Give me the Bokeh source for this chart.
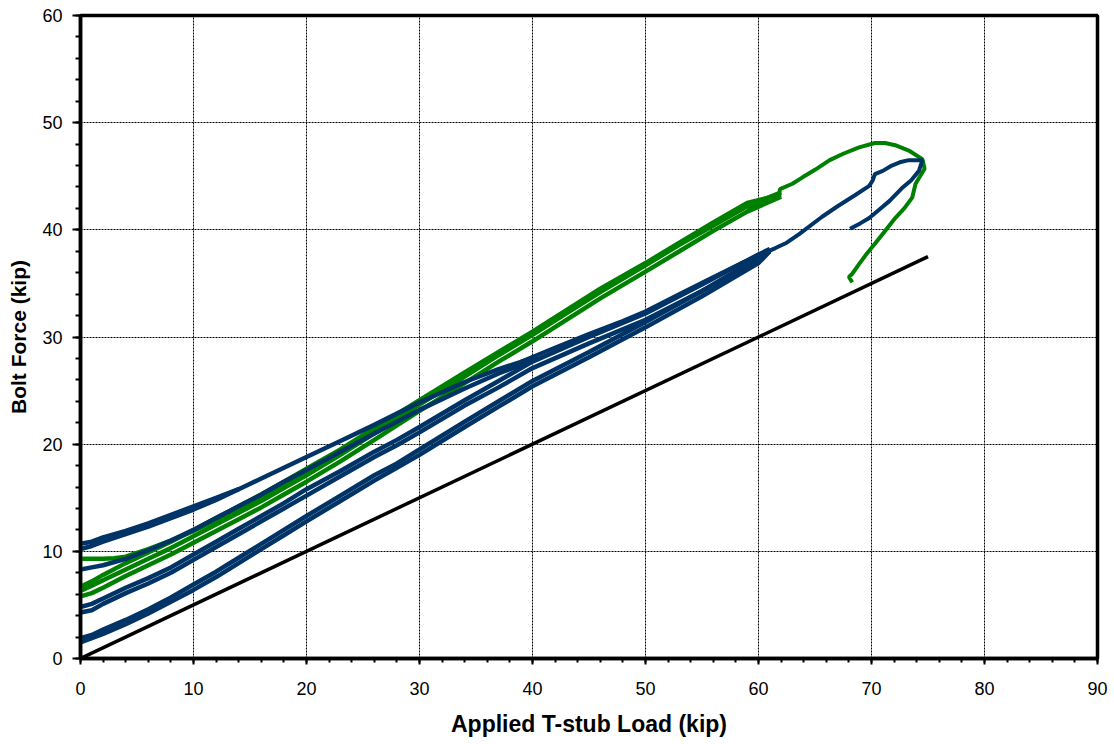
from bokeh.plotting import figure
from bokeh.models import Range1d, SingleIntervalTicker
from bokeh.embed import file_html
from bokeh.resources import INLINE

# ---------------- data ----------------
# Reference line: bolt force = half the T-stub load
ref_x = [0, 75]
ref_y = [0, 37.5]

# Blue series: lowest band (several cycles up to ~61 kip)
b1_x = [0, 1, 2, 4, 6, 8, 10, 12, 14, 16, 18, 20, 23, 26, 28, 30, 34, 37, 40, 45, 50, 55, 60, 61]
b1_load_y = [1.9, 2.2, 2.7, 3.6, 4.6, 5.7, 6.9, 8.1, 9.4, 10.7, 12.0, 13.3, 15.2, 17.1, 18.2, 19.5,
             22.1, 24.0, 25.9, 28.6, 31.4, 34.3, 37.4, 38.0]
b1_unload_y = [1.5, 1.9, 2.3, 3.2, 4.2, 5.3, 6.4, 7.6, 8.9, 10.2, 11.5, 12.8, 14.7, 16.6, 17.8, 19.0,
               21.6, 23.5, 25.4, 28.1, 30.9, 33.8, 36.9, 38.0]

# Blue series: middle band
b2_x = [0, 1, 2, 4, 6, 8, 10, 12, 14, 16, 18, 20, 23, 26, 28, 30, 34, 37, 40, 45, 50, 55, 60, 61]
b2_load_y = [4.8, 5.1, 5.6, 6.6, 7.5, 8.5, 9.7, 10.9, 12.1, 13.3, 14.5, 15.8, 17.5, 19.3, 20.4, 21.6,
             24.1, 25.9, 27.7, 30.0, 32.2, 34.9, 37.7, 38.2]
b2_unload_y = [4.3, 4.5, 5.1, 6.1, 7.0, 8.0, 9.2, 10.4, 11.6, 12.8, 14.0, 15.2, 17.0, 18.8, 19.9, 21.1,
               23.6, 25.3, 27.1, 29.4, 31.6, 34.3, 37.1, 38.2]

# Blue series: upper cycle to ~40.5 kip (load and unload)
b4_x = [0, 1, 2, 4, 6, 8, 10, 12, 14, 16, 18, 20, 23, 26, 30, 34, 37, 40.5]
b4_y = [10.2, 10.5, 10.9, 11.6, 12.3, 13.1, 13.9, 14.8, 15.8, 16.8, 17.8, 18.8, 20.3, 21.8, 23.9,
        25.8, 27.0, 28.2]
b4b_x = [0, 1, 2, 4, 6, 8, 10, 12, 14]
b4b_y = [10.7, 10.9, 11.3, 11.9, 12.6, 13.4, 14.2, 15.0, 15.8]
b3_x = [40.5, 37, 34, 30, 26, 23, 20, 18, 16, 14, 12, 10, 8, 6, 4, 2, 1, 0]
b3_y = [28.0, 26.6, 25.2, 23.2, 21.0, 19.3, 17.6, 16.5, 15.3, 14.2, 13.1, 12.0, 11.0, 10.1, 9.3,
        8.7, 8.5, 8.3]

# Blue series: final loading to peak and unloading
bf_x = [39, 42, 45, 48, 50, 53, 56, 58.5, 60, 61.5, 62.5, 63.6, 65.6, 67, 68.5, 69.8, 70.1, 70.3,
        71, 71.8, 72.5, 73.3, 74.5, 74.2, 73.5, 72.7, 71.6, 70.7, 69.8, 69, 68.1]
bf_y = [27.7, 29.0, 30.3, 31.5, 32.4, 34.0, 35.6, 36.9, 37.6, 38.3, 38.8, 39.6, 41.2, 42.2, 43.2,
        44.1, 44.6, 45.2, 45.5, 46.0, 46.3, 46.5, 46.5, 45.5, 44.6, 43.9, 42.7, 41.9, 41.1, 40.6, 40.1]

# Green series: cycles up to ~62 kip
g_x = [0, 1, 2, 4, 6, 8, 10, 12, 14, 16, 18, 20, 23, 26, 30, 34, 37, 40, 43, 46, 50, 53, 56, 59, 62]
g_load_y = [6.3, 6.8, 7.3, 8.3, 9.3, 10.3, 11.4, 12.5, 13.6, 14.7, 15.9, 17.1, 19.0, 21.0, 23.7,
            26.3, 28.3, 30.2, 32.2, 34.2, 36.7, 38.6, 40.4, 42.2, 43.5]
g_unload_y = [5.8, 6.1, 6.6, 7.7, 8.7, 9.7, 10.8, 11.9, 13.0, 14.1, 15.3, 16.5, 18.4, 20.4, 23.1,
              25.7, 27.7, 29.6, 31.6, 33.6, 36.1, 38.0, 39.9, 41.7, 43.1]
g_upper_y = [6.7, 7.2, 7.8, 8.9, 9.9, 10.9, 12.0, 13.1, 14.2, 15.3, 16.5, 17.7, 19.5, 21.5, 24.1,
             26.7, 28.6, 30.5, 32.5, 34.5, 36.9, 38.8, 40.7, 42.5, 43.3]
g3_x = [0, 1, 2, 3, 4, 6, 8, 10, 12, 14, 16, 18, 20, 23, 26, 29.5]
g3_y = [9.3, 9.3, 9.3, 9.35, 9.5, 10.2, 11.0, 11.9, 12.9, 14.0, 15.1, 16.3, 17.5, 19.4, 21.3, 23.0]

# Green series: final loading to peak and unloading
gf_x = [59, 60.5, 61.8, 61.9, 63, 63.9, 65, 66.3, 67.5, 68.9, 70.3, 71.2, 72.1, 73.3, 74.5, 74.7,
        74.3, 73.9, 73.6, 72.9, 72.1, 71.2, 70.3, 69.6, 68.9, 68.3, 68.0, 68.3]
gf_y = [42.0, 42.6, 43.1, 43.8, 44.3, 44.9, 45.6, 46.5, 47.1, 47.7, 48.1, 48.1, 47.9, 47.4, 46.6,
        45.7, 45.0, 44.3, 43.0, 42.0, 41.1, 39.9, 38.7, 37.8, 36.8, 35.9, 35.6, 35.1]

x_ticks = [0, 10, 20, 30, 40, 50, 60, 70, 80, 90]
y_ticks = [0, 10, 20, 30, 40, 50, 60]

BLUE = "#003366"
GREEN = "#008000"
FONT = "Liberation Sans"

# ---------------- figure ----------------
p = figure(width=1110, height=740, output_backend="svg", toolbar_location=None,
           x_range=Range1d(0, 90), y_range=Range1d(0, 60),
           min_border_left=80, min_border_right=13, min_border_top=15, min_border_bottom=82)
p.background_fill_color = "white"
p.border_fill_color = "white"
p.outline_line_color = "black"
p.outline_line_width = 3.5

for ax in (p.xaxis[0], p.yaxis[0]):
    ax.ticker = SingleIntervalTicker(interval=10, num_minor_ticks=5)
    ax.axis_line_width = 3.5
    ax.axis_line_color = "black"
    ax.major_tick_line_width = 2
    ax.major_tick_in = 0
    ax.minor_tick_line_width = 2
    ax.minor_tick_in = 0
    ax.major_label_text_font = FONT
    ax.major_label_text_font_size = "18px"
    ax.major_label_text_color = "black"
    ax.axis_label_text_font = FONT
    ax.axis_label_text_font_style = "bold"
    ax.axis_label_text_color = "black"

p.xaxis.major_tick_out = 6
p.xaxis.minor_tick_out = 4
p.yaxis.major_tick_out = 8
p.yaxis.minor_tick_out = 5
p.xaxis.axis_label = "Applied T-stub Load (kip)"
p.yaxis.axis_label = "Bolt Force (kip)"
p.xaxis.axis_label_text_font_size = "23px"
p.yaxis.axis_label_text_font_size = "21px"
p.xaxis.major_label_standoff = 17
p.yaxis.major_label_standoff = 10
p.xaxis.axis_label_standoff = 13
p.yaxis.axis_label_standoff = 9

for g in (p.xgrid[0], p.ygrid[0]):
    g.grid_line_color = "black"
    g.grid_line_width = 1
    g.grid_line_dash = "2 1"

lw = 4.5
# green cycles
p.line(g_x, g_load_y, line_color=GREEN, line_width=lw)
p.line(g_x, g_unload_y, line_color=GREEN, line_width=lw)
p.line(g_x, g_upper_y, line_color=GREEN, line_width=lw)
p.line(g3_x, g3_y, line_color=GREEN, line_width=lw)
p.line(gf_x, gf_y, line_color=GREEN, line_width=4)

# blue cycles
p.line(b1_x, b1_load_y, line_color=BLUE, line_width=lw)
p.line(b1_x, b1_unload_y, line_color=BLUE, line_width=lw)
p.line(b2_x, b2_load_y, line_color=BLUE, line_width=lw)
p.line(b2_x, b2_unload_y, line_color=BLUE, line_width=lw)
p.line(b4_x, b4_y, line_color=BLUE, line_width=lw)
p.line(b4b_x, b4b_y, line_color=BLUE, line_width=lw)
p.line(b3_x, b3_y, line_color=BLUE, line_width=lw)
p.line(bf_x, bf_y, line_color=BLUE, line_width=4)

# reference line
p.line(ref_x, ref_y, line_color="black", line_width=3.5)

open("out.html", "w").write(file_html(p, INLINE))
